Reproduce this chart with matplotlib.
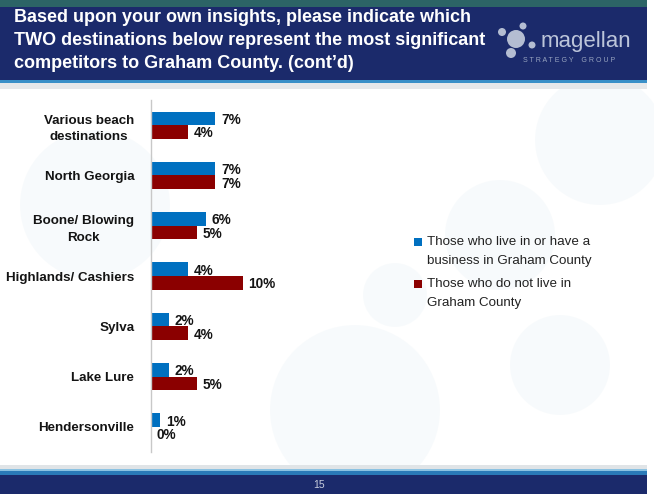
import matplotlib.pyplot as plt
from matplotlib.patches import Rectangle, Circle
import numpy as np

# ---------------------------------------------------------
# Data
# ---------------------------------------------------------
categories = ["Various beach\ndestinations", "North Georgia", "Boone/ Blowing\nRock",
              "Highlands/ Cashiers", "Sylva", "Lake Lure", "Hendersonville"]
residents = [7, 7, 6, 4, 2, 2, 1]
non_residents = [4, 7, 5, 10, 4, 5, 0]
series_names = ["Those who live in or have a\nbusiness in Graham County",
                "Those who do not live in\nGraham County"]
title_lines = ["Based upon your own insights, please indicate which",
               "TWO destinations below represent the most significant",
               "competitors to Graham County. (cont\u2019d)"]
page_number = "15"

BLUE = "#0070c0"
RED = "#8b0000"
NAVY = "#1b2a6b"
TXT = "#141414"
W, H = 654, 494

plt.rcParams["font.family"] = ["Liberation Sans", "DejaVu Sans"]


def px(x0, y0, x1, y1):
    # pixel box (top-left origin) -> figure fraction rect
    return [x0 / W, 1 - y1 / H, (x1 - x0) / W, (y1 - y0) / H]


fig = plt.figure(figsize=(W / 100, H / 100), dpi=100)
fig.patch.set_facecolor("white")

# background layer for slide decoration, in pixel coords
bg = fig.add_axes([0, 0, 1, 1])
bg.set_xlim(0, W)
bg.set_ylim(H, 0)
bg.axis("off")

# very faint bubbles
for (cx, cy, r) in [(95, 205, 75), (355, 410, 85), (600, 140, 65),
                    (560, 365, 50), (395, 295, 32), (500, 235, 55)]:
    bg.add_patch(Circle((cx, cy), r, color="#e3eef4", alpha=0.25, lw=0, zorder=0))

# header band
bg.add_patch(Rectangle((0, 0), 647, 7, color="#2c6466", lw=0, zorder=1))
bg.add_patch(Rectangle((0, 7), 647, 73, color=NAVY, lw=0, zorder=1))
bg.add_patch(Rectangle((0, 80), 647, 3, color="#3a90c8", lw=0, zorder=1))
bg.add_patch(Rectangle((0, 83), 647, 6, color="#e6e8ea", lw=0, zorder=1))
for yy, line in zip([18, 40.5, 63], title_lines):
    bg.text(14, yy, line, color="white", fontsize=13, fontweight="bold",
            va="center", ha="left", zorder=2)

# logo
for (cx, cy, r) in [(516, 39, 9), (502, 32, 4), (523, 26, 3.5), (532, 45, 3.5), (511, 53, 5)]:
    bg.add_patch(Circle((cx, cy), r, color="#b4bdd2", lw=0, zorder=2))
bg.text(541, 41, "magellan", color="#bcc5da", fontsize=16, va="center", ha="left", zorder=2)
bg.text(523, 60, "S T R A T E G Y    G R O U P", color="#98a4c0", fontsize=5,
        va="center", ha="left", zorder=2)

# footer band
bg.add_patch(Rectangle((0, 465), 647, 4, color="#e0e4e7", lw=0, zorder=1))
bg.add_patch(Rectangle((0, 469), 647, 2, color="#8cc2e2", lw=0, zorder=1))
bg.add_patch(Rectangle((0, 471), 647, 4, color="#2a7ab8", lw=0, zorder=1))
bg.add_patch(Rectangle((0, 475), 647, 19, color=NAVY, lw=0, zorder=1))
bg.text(319, 485, page_number, color="#c8cede", fontsize=7.5, ha="center", va="center",
        zorder=2)

# ---------------------------------------------------------
# Bar chart
# ---------------------------------------------------------
ax = fig.add_axes(px(151, 100, 151 + 9.2 * 12, 452))
ax.patch.set_alpha(0)
y = np.arange(len(categories))
h = 0.27
ax.barh(y - h / 2, residents, height=h, color=BLUE)
ax.barh(y + h / 2, non_residents, height=h, color=RED)
ax.set_xlim(0, 12)
ax.set_ylim(len(categories) - 0.5, -0.5)
ax.set_xticks([])
ax.set_yticks(y)
ax.set_yticklabels(categories, fontsize=9.6, fontweight="bold", color=TXT,
                   ha="right", multialignment="center", linespacing=1.5)
ax.tick_params(axis="y", length=0, pad=12)
for s in ["top", "right", "bottom"]:
    ax.spines[s].set_visible(False)
ax.spines["left"].set_color("#c8c8c8")
ax.spines["left"].set_linewidth(1)

for i in range(len(categories)):
    ax.annotate(f"{residents[i]}%", (residents[i], y[i] - h / 2 + 0.03),
                xytext=(4, 0), textcoords="offset points", va="center", ha="left",
                fontsize=9.8, fontweight="bold", color=TXT)
    ax.annotate(f"{non_residents[i]}%", (non_residents[i], y[i] + h / 2 + 0.03),
                xytext=(4, 0), textcoords="offset points", va="center", ha="left",
                fontsize=9.8, fontweight="bold", color=TXT)

# legend, drawn by hand so the square sits on the first line
for k, (name, col) in enumerate(zip(series_names, [BLUE, RED])):
    top = 242 + k * 42
    bg.add_patch(Rectangle((414, top - 4.5), 8, 8, color=col, lw=0, zorder=3))
    for j, line in enumerate(name.split("\n")):
        bg.text(427, top + j * 18.5, line, fontsize=9.6, color="#222222",
                va="center", ha="left", zorder=3)

fig.savefig("out.png", dpi=100)
